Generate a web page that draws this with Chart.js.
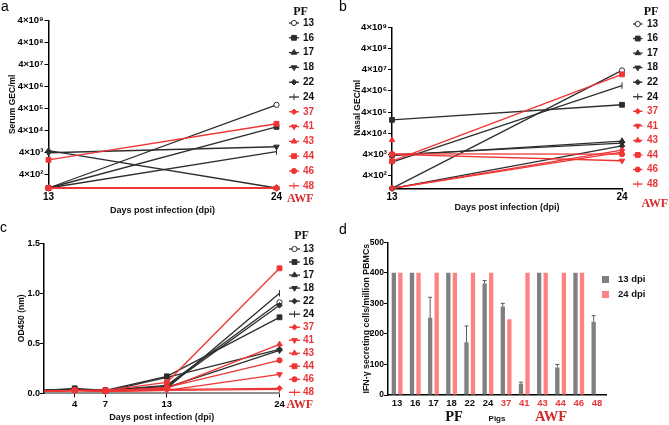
<!DOCTYPE html>
<html>
<head>
<meta charset="utf-8">
<script src="https://cdn.jsdelivr.net/npm/chart.js@4.4.1/dist/chart.umd.min.js"></script>
<style>
  html, body { margin: 0; padding: 0; background: #fff; }
  #wrap { position: relative; width: 669px; height: 425px; overflow: hidden; font-family: "Liberation Sans", Arial, sans-serif; }
  #wrap canvas { position: absolute; }
  .tag { position: absolute; font-size: 14px; line-height: 1; color: #000; }
</style>
</head>
<body>
<div id="wrap">
  <canvas id="chartA" width="335" height="215" style="left:0;top:0"></canvas>
  <canvas id="chartB" width="334" height="215" style="left:335px;top:0"></canvas>
  <canvas id="chartC" width="335" height="210" style="left:0;top:215px"></canvas>
  <canvas id="chartD" width="334" height="210" style="left:335px;top:215px"></canvas>
  <div class="tag" style="left:1px;top:-1px">a</div>
  <div class="tag" style="left:339px;top:-1px">b</div>
  <div class="tag" style="left:0;top:220px">c</div>
  <div class="tag" style="left:339px;top:222px">d</div>
</div>
<script>
// pigs: first six PF group, last six AWF group
const pigs = ['13', '16', '17', '18', '22', '24', '37', '41', '43', '44', '46', '48'];

// a - serum GEC/ml at 13 and 24 dpi
const serumD13 = [100, 100, 5000, 4000, 100, 100, 100, 100, 100, 1900, 100, 100];
const serumD24 = [6e5, 6e4, 100, 7500, 100, 4500, 100, 100, 100, 8.3e4, 100, 100];

// b - nasal GEC/ml at 13 and 24 dpi
const nasalD13 = [100, 1.7e5, 3.5e3, 3.8e3, 100, 1.7e3, 100, 4e3, 1.9e4, 1.9e3, 4.2e3, 100];
const nasalD24 = [3.7e7, 8.8e5, 1.7e4, 1.35e4, 1.0e4, 7e6, 6.3e3, 2e3, null, 2.4e7, 4.1e3, 5.1e3];

const gecTicks = [4e2, 4e3, 4e4, 4e5, 4e6, 4e7, 4e8, 4e9];

// c - OD450 by day
const odDays = [1, 4, 7, 13, 24];
const odD1 = [0.03, 0.03, 0.03, 0.03, 0.03, 0.03, 0.02, 0.02, 0.02, 0.02, 0.02, 0.02];
const odD4 = [0.04, 0.05, 0.04, 0.04, 0.04, 0.04, 0.03, 0.03, 0.03, 0.03, 0.03, 0.03];
const odD7 = [0.03, 0.03, 0.02, 0.02, 0.03, 0.02, 0.02, 0.02, 0.03, 0.03, 0.02, 0.02];
const odD13 = [0.08, 0.17, 0.16, 0.06, 0.07, 0.05, 0.04, 0.03, 0.05, 0.11, 0.06, 0.03];
const odD24 = [0.91, 0.76, 0.44, 0.43, 0.88, 1.00, 0.05, 0.19, 0.49, 1.25, 0.33, 0.04];
const odTicks = [4, 7, 13, 24];

// d - IFN-y secreting cells / million PBMCs
const ifn13 = [400, 400, 253, 400, 173, 365, 290, 37, 400, 90, 400, 240];
const ifn13Err = [0, 0, 67, 0, 53, 10, 10, 5, 0, 10, 0, 20];
const ifn24 = [400, 400, 400, 400, 400, 400, 248, 400, 400, 400, 400, null];

// styles
const BLACK = '#2e2e2e';
const RED = '#f03434';
const RED_TXT = '#e8383b';
const AWF_RED = '#d42b2b';
const SANS = '"Liberation Sans", Arial, sans-serif';
const SERIF = '"Liberation Serif", "Times New Roman", serif';
const markStyle = ['circle', 'rect', 'triangle', 'triangle', 'rectRot', 'line', 'rectRot', 'triangle', 'triangle', 'rect', 'circle', 'line'];
const markRot = [0, 0, 0, 180, 0, 90, 0, 180, 0, 0, 0, 90];
const markSize = [2.6, 3.4, 3.2, 3.2, 2.8, 3.2, 2.8, 3.2, 3.2, 3.4, 2.6, 3.2];
const isRed = i => i >= 6;

const SUP = {2: '\u00b2', 3: '\u00b3', 4: '\u2074', 5: '\u2075', 6: '\u2076', 7: '\u2077', 8: '\u2078', 9: '\u2079'};
function gecLabel(v) {
  const e = Math.round(Math.log10(v / 4));
  return '4\u00d710' + SUP[e];
}

function lineSets(valuesFor, radiusFor) {
  return pigs.map((p, i) => {
    const c = isRed(i) ? RED : BLACK;
    return {
      label: p,
      data: valuesFor(i),
      borderColor: c,
      backgroundColor: c,
      pointBackgroundColor: i === 0 ? '#fff' : c,
      pointBorderColor: c,
      pointStyle: markStyle[i],
      pointRotation: markRot[i],
      pointRadius: radiusFor ? radiusFor(i) : markSize[i],
      pointBorderWidth: 1,
      borderWidth: 1.3,
      clip: false,
      order: 12 - i,
      textColor: isRed(i) ? RED_TXT : '#111'
    };
  });
}

// right-hand legend of panels a-c
const sideLegend = {
  id: 'sideLegend',
  afterDraw(chart, args, o) {
    const ctx = chart.ctx;
    ctx.save();
    chart.data.datasets.forEach((ds, i) => {
      const y = o.y0 + i * o.dy;
      ctx.strokeStyle = ds.borderColor;
      ctx.lineWidth = 1.3;
      ctx.beginPath();
      ctx.moveTo(o.x0, y);
      ctx.lineTo(o.x0 + o.len, y);
      ctx.stroke();
      ctx.lineWidth = 1;
      ctx.fillStyle = ds.pointBackgroundColor;
      Chart.helpers.drawPoint(ctx, {
        pointStyle: ds.pointStyle, rotation: ds.pointRotation, radius: markSize[i], borderWidth: 1
      }, o.x0 + o.len / 2, y);
      ctx.fillStyle = ds.textColor;
      ctx.font = 'bold 10px ' + SANS;
      ctx.textAlign = 'left';
      ctx.textBaseline = 'middle';
      ctx.fillText(ds.label, o.tx, y);
    });
    ctx.font = 'bold 12px ' + SERIF;
    ctx.fillStyle = '#111';
    ctx.textAlign = 'center';
    ctx.fillText('PF', o.pfX, o.pfY);
    ctx.fillStyle = AWF_RED;
    ctx.textAlign = 'left';
    ctx.fillText('AWF', o.awfX, o.awfY);
    ctx.restore();
  }
};

function axisTitle(text, size, pad) {
  return {display: true, text: text, color: '#111', font: {family: SANS, size: size, weight: 'bold'}, padding: pad};
}

function gecChart(id, d13, d24, box, legend, yTitle) {
  return new Chart(document.getElementById(id), {
    type: 'line',
    data: {labels: ['13', '24'], datasets: lineSets(i => [d13[i], d24[i]])},
    plugins: [sideLegend],
    options: {
      responsive: false,
      animation: false,
      devicePixelRatio: 1,
      layout: {padding: {left: 0, top: box.top, right: box.right, bottom: 0}},
      plugins: {legend: {display: false}, tooltip: {enabled: false}, sideLegend: legend},
      scales: {
        x: {
          type: 'category',
          offset: false,
          grid: {drawOnChartArea: false, tickLength: 3, color: '#000'},
          border: {color: '#000', width: 1.5},
          ticks: {color: '#000', padding: 0, font: {family: SANS, size: 10, weight: 'bold'}},
          title: axisTitle('Days post infection (dpi)', 9, {top: 0, bottom: box.xTitlePad}),
          afterFit: s => { s.height = box.xHeight; }
        },
        y: {
          type: 'logarithmic',
          min: 100,
          max: 4e9,
          afterBuildTicks: s => { s.ticks = gecTicks.map(v => ({value: v})); },
          grid: {drawOnChartArea: false, tickLength: 4, color: '#000'},
          border: {color: '#000', width: 1.5},
          ticks: {color: '#000', padding: 1, font: {family: SANS, size: 9.5, weight: 'bold'}, callback: gecLabel},
          title: axisTitle(yTitle, 8.5, {top: box.yTitlePad, bottom: 0}),
          afterFit: s => { s.width = box.left; }
        }
      }
    }
  });
}

gecChart('chartA', serumD13, serumD24,
  {top: 20.7, right: 58.5, left: 48.5, xHeight: 27, xTitlePad: -0.5, yTitlePad: 7.3},
  {x0: 289, len: 10, tx: 303, y0: 23, dy: 14.8, pfX: 300.5, pfY: 12, awfX: 287, awfY: 198.5},
  'Serum GEC/ml');

gecChart('chartB', nasalD13, nasalD24,
  {top: 27.3, right: 47, left: 57, xHeight: 26.7, xTitlePad: 2.5, yTitlePad: 17.8},
  {x0: 298, len: 9.5, tx: 312, y0: 24, dy: 14.55, pfX: 316, pfY: 12, awfX: 306.5, awfY: 204},
  'Nasal GEC/ml');

// c
const odCols = [odD1, odD4, odD7, odD13, odD24];
new Chart(document.getElementById('chartC'), {
  type: 'line',
  data: {
    datasets: lineSets(
      i => odDays.map((d, k) => ({x: d, y: odCols[k][i]})),
      i => odDays.map((d, k) => (k === 0 ? 0 : markSize[i]))
    )
  },
  plugins: [sideLegend],
  options: {
    responsive: false,
    animation: false,
    devicePixelRatio: 1,
    layout: {padding: {left: 0, top: 28.3, right: 55.5, bottom: 0}},
    plugins: {
      legend: {display: false}, tooltip: {enabled: false},
      sideLegend: {x0: 289, len: 11, tx: 303, y0: 34, dy: 13.03, pfX: 301.5, pfY: 20.8, awfX: 286.5, awfY: 189.5}
    },
    scales: {
      x: {
        type: 'linear',
        min: 1,
        max: 24,
        afterBuildTicks: s => { s.ticks = odTicks.map(v => ({value: v})); },
        grid: {drawOnChartArea: false, tickLength: 4, color: '#000'},
        border: {color: '#8e8e8e', width: 2},
        ticks: {color: '#000', padding: 1, font: {family: SANS, size: 9.5, weight: 'bold'}, callback: v => String(v)},
        title: axisTitle('Days post infection (dpi)', 9, {top: 0, bottom: 2.3}),
        afterFit: s => { s.height = 31.7; }
      },
      y: {
        min: 0,
        max: 1.5,
        grid: {drawOnChartArea: false, tickLength: 4, color: '#000'},
        border: {color: '#000', width: 1.5},
        ticks: {stepSize: 0.5, color: '#000', padding: 0, font: {family: SANS, size: 9, weight: 'bold'}, callback: v => v.toFixed(1)},
        title: axisTitle('OD450 (nm)', 8.5, {top: 16.8, bottom: 0}),
        afterFit: s => { s.width = 44; }
      }
    }
  }
});

// d
const GRAY = '#808080';
const PINK = '#ff8282';

const errorBars = {
  id: 'errorBars',
  afterDatasetsDraw(chart, args, o) {
    const meta = chart.getDatasetMeta(0);
    const y = chart.scales.y;
    const ctx = chart.ctx;
    ctx.save();
    ctx.strokeStyle = o.color;
    ctx.lineWidth = 1;
    meta.data.forEach((bar, i) => {
      const e = o.errors[i];
      if (!e) return;
      const top = y.getPixelForValue(chart.data.datasets[0].data[i] + e);
      ctx.beginPath();
      ctx.moveTo(bar.x, bar.y);
      ctx.lineTo(bar.x, top);
      ctx.moveTo(bar.x - 2, top);
      ctx.lineTo(bar.x + 2, top);
      ctx.stroke();
    });
    ctx.restore();
  }
};

const barLegend = {
  id: 'barLegend',
  afterDraw(chart, args, o) {
    const ctx = chart.ctx;
    ctx.save();
    ctx.font = 'bold 9.5px ' + SANS;
    ctx.textBaseline = 'middle';
    ctx.textAlign = 'left';
    chart.data.datasets.forEach((ds, i) => {
      const y = o.y0 + i * o.dy;
      ctx.fillStyle = ds.backgroundColor;
      ctx.fillRect(o.x0, y - 3.5, 7, 7);
      ctx.fillStyle = '#111';
      ctx.fillText(ds.label, o.tx, y);
    });
    ctx.font = 'bold 14.5px ' + SERIF;
    ctx.textAlign = 'center';
    ctx.fillStyle = '#111';
    ctx.fillText('PF', o.pfX, o.groupY);
    ctx.fillStyle = AWF_RED;
    ctx.fillText('AWF', o.awfX, o.groupY);
    ctx.restore();
  }
};

new Chart(document.getElementById('chartD'), {
  type: 'bar',
  data: {
    labels: pigs,
    datasets: [
      {label: '13 dpi', data: ifn13, backgroundColor: GRAY, categoryPercentage: 0.72, barPercentage: 0.66},
      {label: '24 dpi', data: ifn24, backgroundColor: PINK, categoryPercentage: 0.72, barPercentage: 0.66}
    ]
  },
  plugins: [errorBars, barLegend],
  options: {
    responsive: false,
    animation: false,
    devicePixelRatio: 1,
    layout: {padding: {left: 0, top: 27.3, right: 63, bottom: 0}},
    plugins: {
      legend: {display: false}, tooltip: {enabled: false},
      errorBars: {errors: ifn13Err, color: '#5a5a5a'},
      barLegend: {x0: 267, tx: 283, y0: 64.5, dy: 15, pfX: 119, awfX: 216, groupY: 202}
    },
    scales: {
      x: {
        grid: {display: false, drawTicks: false},
        border: {color: '#000', width: 1.5},
        ticks: {
          padding: 3,
          font: {family: SANS, size: 9.5, weight: 'bold'},
          color: c => (c.index >= 6 ? RED_TXT : '#111')
        },
        title: axisTitle('Pigs', 8, {top: 0, bottom: 1}),
        afterFit: s => { s.height = 30; }
      },
      y: {
        min: 0,
        max: 500,
        grid: {drawOnChartArea: false, tickLength: 4, color: '#000'},
        border: {color: '#000', width: 1.5},
        ticks: {stepSize: 100, color: '#000', padding: 0, font: {family: SANS, size: 8.5, weight: 'bold'}},
        title: axisTitle('IFN-\u03b3 secreting cells/million PBMCs', 8.8, {top: 26, bottom: 0}),
        afterFit: s => { s.width = 53; }
      }
    }
  }
});
</script>
</body>
</html>
